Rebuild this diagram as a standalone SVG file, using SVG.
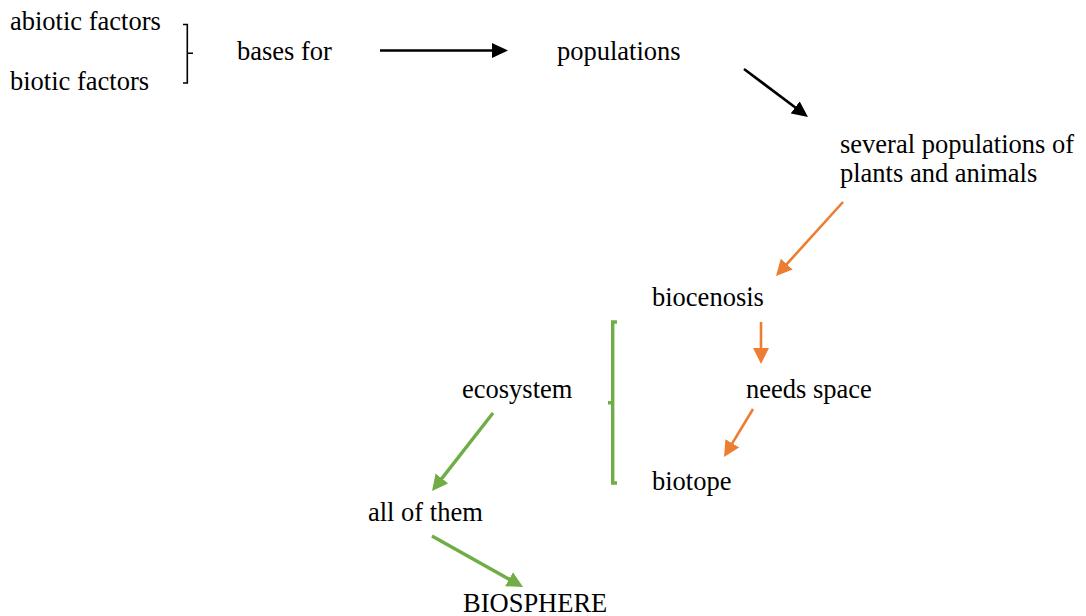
<svg xmlns="http://www.w3.org/2000/svg" width="1086" height="616" viewBox="0 0 1086 616">
<style>
text{font-family:"Liberation Serif","Times New Roman",serif;font-size:26.5px;fill:#000}
.k{stroke:#000;stroke-width:2.6;fill:none}
.o{stroke:#ED7D31;stroke-width:2.6;fill:none}
.g{stroke:#70AD47;stroke-width:3.4;fill:none}
</style>
<defs>
<marker id="ak" markerUnits="userSpaceOnUse" markerWidth="16" markerHeight="16" refX="6" refY="7.5" orient="auto"><path d="M0,0 L16,7.5 L0,15 z" fill="#000"/></marker>
<marker id="ao" markerUnits="userSpaceOnUse" markerWidth="16" markerHeight="17" refX="6" refY="8" orient="auto"><path d="M0,0 L16,8 L0,16 z" fill="#ED7D31"/></marker>
<marker id="ag" markerUnits="userSpaceOnUse" markerWidth="16" markerHeight="17" refX="6" refY="8" orient="auto"><path d="M0,0 L16,8 L0,16 z" fill="#70AD47"/></marker>
</defs>
<rect width="1086" height="616" fill="#fff"/>
<g id="connectors">
<path class="k" style="stroke-width:1.6" d="M183,24.5 H187.3 V83 H183 M187.3,53.3 H193"/>
<line class="k" x1="380" y1="50.5" x2="498" y2="50.5" marker-end="url(#ak)"/>
<line class="k" x1="744" y1="69" x2="800" y2="111" marker-end="url(#ak)"/>
<line class="o" x1="843" y1="202" x2="782.7" y2="268.6" marker-end="url(#ao)"/>
<line class="o" x1="761" y1="322" x2="761" y2="354" marker-end="url(#ao)"/>
<line class="o" x1="753" y1="409" x2="729.2" y2="448.4" marker-end="url(#ao)"/>
<path class="g" d="M617,322 H612.7 V483 H617 M612.7,402.7 H608"/>
<line class="g" x1="493" y1="413" x2="438.2" y2="483.1" marker-end="url(#ag)"/>
<line class="g" x1="432" y1="536" x2="514.3" y2="582.1" marker-end="url(#ag)"/>
<circle cx="750" cy="288.5" r="1.2" fill="#000"/>
</g>
<g id="abiotic"><text x="10" y="30">abiotic factors</text></g>
<g id="biotic"><text x="10" y="90">biotic factors</text></g>
<g id="bases"><text x="237" y="60">bases for</text></g>
<g id="populations"><text x="557" y="60">populations</text></g>
<g id="several"><text x="840" y="152.5">several populations of</text><text x="840" y="182">plants and animals</text></g>
<g id="biocenosis"><text x="652" y="306">biocenosis</text></g>
<g id="ecosystem"><text x="462" y="398">ecosystem</text></g>
<g id="needs"><text x="746" y="398">needs space</text></g>
<g id="biotope"><text x="652" y="490">biotope</text></g>
<g id="allofthem"><text x="368" y="521">all of them</text></g>
<g id="biosphere"><text x="463" y="612">BIOSPHERE</text></g>
</svg>
